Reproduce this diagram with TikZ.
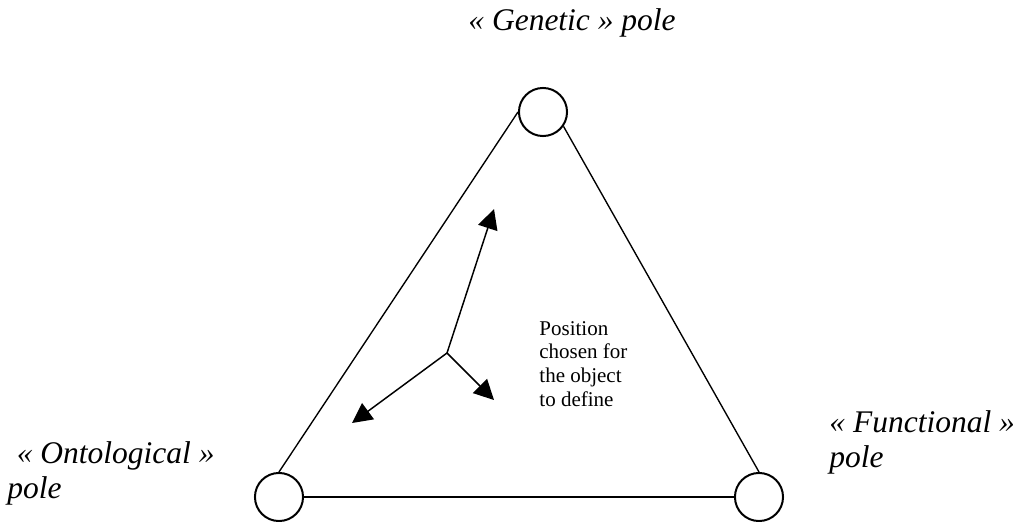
\documentclass[tikz,border=0pt]{standalone}
\usepackage{fontspec}
\setmainfont{Liberation Serif}
\usetikzlibrary{arrows.meta}

\begin{document}
\begin{tikzpicture}[
  x=0.4763pt, y=-0.4763pt,
  pole/.style={draw, circle, line width=0.95pt, minimum size=22.9pt, inner sep=0pt},
  side/.style={line width=0.65pt},
  bottom/.style={line width=1pt},
  arr/.style={-{Triangle[length=9.5pt,width=9.5pt]}, line width=0.7pt},
  polename/.style={font=\fontsize{15}{16.4}\selectfont\itshape, align=left,
    inner sep=0pt, anchor=base west},
  note/.style={font=\fontsize{10}{11.2}\selectfont, align=left,
    inner sep=0pt, anchor=base west}
]
\useasboundingbox (0,0) rectangle (1016,521);
% the three poles
\node[pole] (gen) at (543,112) {};
\node[pole] (ont) at (279,497) {};
\node[pole] (fun) at (759,497) {};
\draw[side] (gen.west) -- (ont.north);
\draw[side] (gen.-35) -- (fun.north);
\draw[bottom] (ont.east) -- (fun.west);
% names of the poles (anchored on the last line)
\node[polename] (gen-name) at (468,30) {« Genetic » pole};
\node[polename] (ont-name) at (7,498) {\hspace{4.5pt}« Ontological »\\pole};
\node[polename] (fun-name) at (829,467) {« Functional »\\pole};
% chosen position and its pulls
\coordinate (pos) at (447,353);
\coordinate (to-gen) at (494,209);
\coordinate (to-ont) at (352,423);
\coordinate (to-fun) at (494,400);
\draw[arr] (pos) -- (to-gen);
\draw[arr] (pos) -- (to-ont);
\draw[arr] (pos) -- (to-fun);
\node[note] (pos-text) at (539,406) {Position\\chosen for\\the object\\to define};
\end{tikzpicture}
\end{document}
